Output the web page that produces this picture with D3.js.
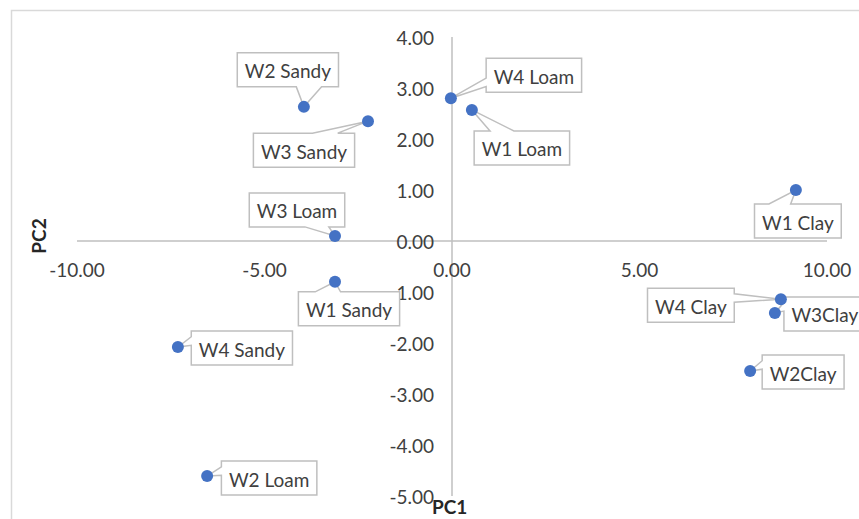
<!DOCTYPE html>
<html>
<head>
<meta charset="utf-8">
<script src="https://cdn.jsdelivr.net/npm/d3@7"></script>
<style>
body { margin: 0; background: #fff; }
svg { display: block; font-family: Lato, "Open Sans", sans-serif; }
</style>
</head>
<body>
<svg id="chart" width="859" height="519"></svg>
<script>
// sample names and their principal component scores
const names = ['W2 Sandy', 'W3 Sandy', 'W3 Loam', 'W4 Loam', 'W1 Loam', 'W1 Clay',
               'W1 Sandy', 'W4 Sandy', 'W2 Loam', 'W4 Clay', 'W3Clay', 'W2Clay'];
const pc1 = [-3.95, -2.24, -3.12, -0.03, 0.53, 9.17, -3.12, -7.31, -6.53, 8.77, 8.61, 7.95];
const pc2 = [2.63, 2.35, 0.10, 2.80, 2.57, 1.00, -0.80, -2.08, -4.61, -1.14, -1.41, -2.55];

const xTicks = [-10, -5, 0, 5, 10];
const yTicks = [-5, -4, -3, -2, -1, 0, 1, 2, 3, 4];

// where each callout box sits, relative to its point (layout only)
const labelDx = [-16, -64, -38, 83, 50, 2, 14, 64, 62, -90, 50, 53];
const labelDy = [-37, 29, -26, -23, 38, 31, 27, 1, 2, 6, 1, 1];

const svg = d3.select('#chart');
// Excel shows a plain hyphen for negatives
const fmt = v => d3.format('.2f')(v).replace('\u2212', '-');
const FS = 19;

const x = d3.scaleLinear().domain([-10, 10]).range([77, 827]);
const y = d3.scaleLinear().domain([-5, 4]).range([496, 37]);

// chart area border (runs off the right/bottom of the picture)
svg.append('rect')
    .attr('x', 11.5).attr('y', 10.5)
    .attr('width', 900).attr('height', 600)
    .attr('fill', 'none')
    .attr('stroke', '#d9d9d9')
    .attr('stroke-width', 1.5);

// axes crossing at zero
svg.append('line')
    .attr('x1', x(-10)).attr('x2', x(10))
    .attr('y1', y(0)).attr('y2', y(0))
    .attr('stroke', '#bfbfbf').attr('stroke-width', 1.5);
svg.append('line')
    .attr('x1', x(0)).attr('x2', x(0))
    .attr('y1', y(4)).attr('y2', y(-5))
    .attr('stroke', '#bfbfbf').attr('stroke-width', 1.5);

svg.selectAll('.xt')
    .data(xTicks)
    .join('text')
    .attr('class', 'xt')
    .attr('x', d => x(d))
    .attr('y', y(0) + 28)
    .attr('text-anchor', 'middle')
    .attr('dominant-baseline', 'central')
    .attr('font-size', FS)
    .attr('fill', '#404040')
    .text(d => fmt(d));

svg.selectAll('.yt')
    .data(yTicks)
    .join('text')
    .attr('class', 'yt')
    .attr('x', x(0) - 18)
    .attr('y', d => y(d))
    .attr('text-anchor', 'end')
    .attr('dominant-baseline', 'central')
    .attr('font-size', FS)
    .attr('fill', '#404040')
    .text(d => fmt(d));

// axis titles
svg.append('text')
    .attr('x', 432).attr('y', 506)
    .attr('dominant-baseline', 'central')
    .attr('font-size', FS).attr('font-weight', 'bold')
    .attr('fill', '#262626')
    .text('PC1');
svg.append('text')
    .attr('transform', 'translate(38,236) rotate(-90)')
    .attr('text-anchor', 'middle')
    .attr('dominant-baseline', 'central')
    .attr('font-size', FS).attr('font-weight', 'bold')
    .attr('fill', '#262626')
    .text('PC2');

// rectangular callout with a wedge pointing at (tx, ty), Excel style
function calloutPath(w, h, tx, ty) {
    const dxPos = tx - w / 2, dyPos = ty - h / 2;
    const dq = dxPos * h / w;
    const dz = Math.abs(dyPos) - Math.abs(dq);
    const x1 = w * (dxPos > 0 ? 7 : 2) / 12, x2 = w * (dxPos > 0 ? 10 : 5) / 12;
    const y1 = h * (dyPos > 0 ? 7 : 2) / 12, y2 = h * (dyPos > 0 ? 10 : 5) / 12;
    let pts;
    if (dz > 0 && dyPos < 0) {
        pts = [[0, 0], [x1, 0], [tx, ty], [x2, 0], [w, 0], [w, h], [0, h]];
    } else if (dz > 0) {
        pts = [[0, 0], [w, 0], [w, h], [x2, h], [tx, ty], [x1, h], [0, h]];
    } else if (dxPos < 0) {
        pts = [[0, 0], [w, 0], [w, h], [0, h], [0, y2], [tx, ty], [0, y1]];
    } else {
        pts = [[0, 0], [w, 0], [w, y1], [tx, ty], [w, y2], [w, h], [0, h]];
    }
    return 'M' + pts.map(p => p.join(',')).join('L') + 'Z';
}

const idx = d3.range(names.length);
const labels = svg.selectAll('.lab')
    .data(idx)
    .join('g')
    .attr('class', 'lab');

labels.each(function (i) {
    const g = d3.select(this);
    const px = x(pc1[i]), py = y(pc2[i]);
    const path = g.append('path');
    const t = g.append('text')
        .attr('font-size', FS)
        .attr('fill', '#404040')
        .attr('text-anchor', 'middle')
        .attr('dominant-baseline', 'central')
        .text(names[i]);
    const w = t.node().getComputedTextLength() + 15;
    const h = 34;
    const cx = px + labelDx[i], cy = py + labelDy[i];
    const left = cx - w / 2, top = cy - h / 2;
    g.attr('transform', `translate(${left},${top})`);
    t.attr('x', w / 2).attr('y', h / 2 + 1);
    path.attr('d', calloutPath(w, h, px - left, py - top))
        .attr('fill', '#fff')
        .attr('stroke', '#bfbfbf')
        .attr('stroke-width', 1.5);
});

svg.selectAll('circle')
    .data(idx)
    .join('circle')
    .attr('cx', i => x(pc1[i]))
    .attr('cy', i => y(pc2[i]))
    .attr('r', 6)
    .attr('fill', '#4472c4');
</script>
</body>
</html>
